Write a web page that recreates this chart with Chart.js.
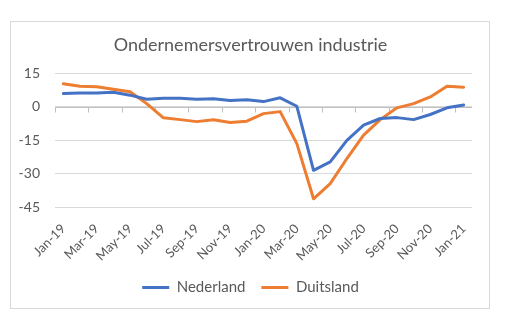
<!DOCTYPE html>
<html>
<head>
<meta charset="utf-8">
<script src="https://cdn.jsdelivr.net/npm/chart.js@4"></script>
<style>
  html, body { margin: 0; padding: 0; background: #ffffff; }
  #wrap { position: relative; width: 509px; height: 322px; }
</style>
</head>
<body>
<div id="wrap"><canvas id="chart" width="509" height="322"></canvas></div>
<script>
// Monthly categories, Jan 2019 – Jan 2021
const months = [
  'Jan-19', 'Feb-19', 'Mar-19', 'Apr-19', 'May-19', 'Jun-19', 'Jul-19', 'Aug-19',
  'Sep-19', 'Oct-19', 'Nov-19', 'Dec-19', 'Jan-20', 'Feb-20', 'Mar-20', 'Apr-20',
  'May-20', 'Jun-20', 'Jul-20', 'Aug-20', 'Sep-20', 'Oct-20', 'Nov-20', 'Dec-20', 'Jan-21'
];

// Producer confidence, manufacturing (balance)
const nederland = [
  6.0, 6.3, 6.3, 6.6, 5.3, 3.5, 3.9, 3.9, 3.5, 3.7, 2.9, 3.2, 2.4,
  4.1, 0.3, -28.5, -24.7, -15.0, -8.2, -5.2, -4.8, -5.7, -3.4, -0.4, 0.9
];
const duitsland = [
  10.4, 9.3, 9.1, 8.0, 6.8, 1.5, -4.9, -5.7, -6.6, -5.8, -7.0, -6.4, -3.0,
  -2.1, -16.5, -41.3, -34.5, -23.2, -12.7, -5.7, -0.4, 1.5, 4.5, 9.3, 8.9
];

const yTicks = [-45, -30, -15, 0, 15];

const seriesNames = ['Nederland', 'Duitsland'];
const seriesColors = ['#4472C4', '#ED7D31'];

const textColor = '#595959';
const gridColor = '#d9d9d9';
const fontFamily = 'Lato, "Open Sans", sans-serif';

// White background and the thin frame around the chart
const frame = {
  id: 'frame',
  beforeDraw(chart) {
    const c = chart.ctx;
    c.save();
    c.fillStyle = '#ffffff';
    c.fillRect(0, 0, chart.width, chart.height);
    c.strokeStyle = gridColor;
    c.lineWidth = 1;
    c.strokeRect(10.5, 21.5, 479, 287);
    c.restore();
  }
};

// Horizontal category axis crossing at zero, with a tick mark every two months
const zeroAxis = {
  id: 'zeroAxis',
  beforeDatasetsDraw(chart) {
    const x = chart.scales.x, y = chart.scales.y;
    const y0 = Math.round(y.getPixelForValue(0)) + 0.5;
    const half = (x.getPixelForValue(1) - x.getPixelForValue(0)) / 2;
    const c = chart.ctx;
    c.save();
    c.strokeStyle = '#bfbfbf';
    c.lineWidth = 1;
    c.beginPath();
    c.moveTo(chart.chartArea.left, y0);
    c.lineTo(chart.chartArea.right, y0);
    for (let i = 0; i <= months.length; i += 2) {
      const px = Math.round(x.getPixelForValue(i) - half) + 0.5;
      c.moveTo(px, y0);
      c.lineTo(px, y0 + 5);
    }
    c.stroke();
    c.restore();
  }
};

new Chart(document.getElementById('chart'), {
  type: 'line',
  data: {
    labels: months,
    datasets: [
      { label: seriesNames[0], data: nederland, borderColor: seriesColors[0], backgroundColor: seriesColors[0] },
      { label: seriesNames[1], data: duitsland, borderColor: seriesColors[1], backgroundColor: seriesColors[1] }
    ]
  },
  options: {
    responsive: false,
    animation: false,
    devicePixelRatio: 1,
    layout: { padding: { left: 11, right: 19, top: 22, bottom: 17 } },
    elements: {
      line: { borderWidth: 3, tension: 0, borderCapStyle: 'round', borderJoinStyle: 'round' },
      point: { radius: 0, hoverRadius: 0 }
    },
    plugins: {
      title: {
        display: true,
        text: 'Ondernemersvertrouwen industrie',
        color: textColor,
        font: { family: fontFamily, size: 18, weight: 'normal' },
        padding: { top: 12, bottom: 18 }
      },
      legend: {
        display: true,
        position: 'bottom',
        labels: {
          color: textColor,
          font: { family: fontFamily, size: 15 },
          boxWidth: 27,
          boxHeight: 3,
          padding: 16,
          generateLabels(chart) {
            return Chart.defaults.plugins.legend.labels.generateLabels(chart).map(item => {
              item.lineWidth = 0;
              item.strokeStyle = 'transparent';
              return item;
            });
          }
        }
      },
      tooltip: { enabled: false }
    },
    scales: {
      x: {
        offset: true,
        afterFit(scale) { scale.height = 57; },
        grid: { display: false, drawTicks: false },
        border: { display: false },
        ticks: {
          autoSkip: false,
          maxRotation: 45,
          minRotation: 45,
          padding: 14,
          color: textColor,
          font: { family: fontFamily, size: 13 },
          callback(value, index) { return index % 2 === 0 ? months[index] : ''; }
        }
      },
      y: {
        min: yTicks[0],
        max: yTicks[yTicks.length - 1],
        afterBuildTicks(scale) { scale.ticks = yTicks.map(v => ({ value: v })); },
        afterFit(scale) { scale.width = 44; },
        grid: { color: gridColor, lineWidth: 1, drawTicks: false },
        border: { display: false },
        ticks: {
          padding: 15,
          color: textColor,
          font: { family: fontFamily, size: 14 }
        }
      },
      // empty right-hand margin inside the frame
      gap: {
        type: 'linear',
        position: 'right',
        afterFit(scale) { scale.width = 18; },
        grid: { display: false, drawTicks: false },
        border: { display: false },
        ticks: { display: false }
      }
    }
  },
  plugins: [frame, zeroAxis]
});
</script>
</body>
</html>
